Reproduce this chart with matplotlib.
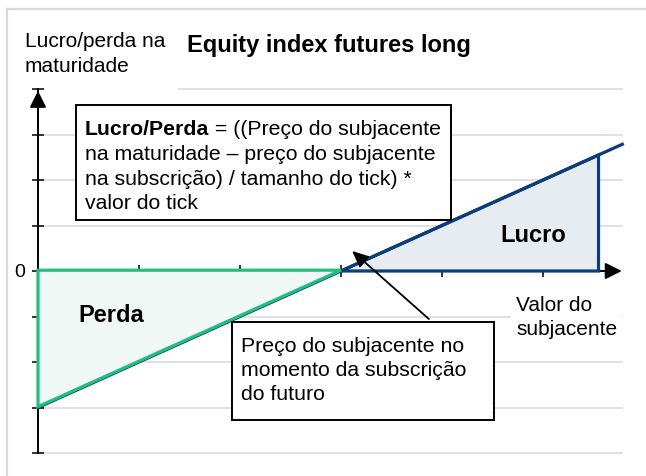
import matplotlib
matplotlib.use("Agg")
import matplotlib.pyplot as plt
import matplotlib.transforms as mtransforms
from matplotlib.patches import Polygon, Rectangle
from matplotlib.lines import Line2D

plt.rcParams['font.family'] = ['Liberation Sans', 'DejaVu Sans']

# chart content
title = "Equity index futures long"
y_label = ["Lucro/perda na", "maturidade"]
x_label = ["Valor do", "subjacente"]
strike = 3
x_ticks = [1, 2, 3, 4, 5]
y_ticks = [-4, -3, -2, -1, 0, 1, 2, 3, 4]
grid_y = [-4, -3, -2, -1, 1, 2, 3]
payoff_x = [0, 3, 5.8]
payoff_y = [-3, 0, 2.8]
loss_x = [0, 3, 0]
loss_y = [0, 0, -3]
profit_x = [3, 5.55, 5.55]
profit_y = [0, 0, 2.55]
formula_bold = "Lucro/Perda"
formula_lines = [" = ((Preço do subjacente",
                 "na maturidade \u2013 preço do subjacente",
                 "na subscrição) / tamanho do tick) *",
                 "valor do tick"]
note_lines = ["Preço do subjacente no", "momento da subscrição", "do futuro"]

W, H = 646, 477
green = '#1FC07F'
mint = '#EFF8F5'
navy = '#0B3D7B'
pale_blue = '#E7EBF2'
grid_c = '#D9D9D9'

fig = plt.figure(figsize=(W / 100, H / 100), dpi=100)
ax = fig.add_axes([0, 0, 1, 1])
ax.set_xlim(-38 / 101, (W - 38) / 101)
ax.set_ylim((272 - H) / 45.5, 272 / 45.5)
ax.axis('off')


def fx(x, y):
    # pixel position (from top-left) -> figure fraction
    return x / W, 1 - y / H


def ftext(x, y, s, **kw):
    return fig.text(*fx(x, y), s, va='baseline', ha='left', **kw)


# grid
ax.hlines(grid_y, 0, 5.79, color=grid_c, lw=1.1, zorder=1)
ax.hlines([4], 1.39, 5.79, color=grid_c, lw=1.1, zorder=1)

# axes with arrow heads
ax.plot([0, 0], [-4, 4], color='black', lw=1.4, zorder=3)
ax.plot([0, 5.7], [0, 0], color='black', lw=1.4, zorder=3)
head = dict(arrowstyle='-|>,head_length=1.0,head_width=0.5', mutation_scale=10,
            color='black', lw=1.4, shrinkA=0, shrinkB=0)
ax.annotate('', xy=(0, 3.96), xytext=(0, 3.0), arrowprops=head, zorder=3)
ax.annotate('', xy=(5.78, 0), xytext=(5.3, 0), arrowprops=head, zorder=3)

# ticks
ax.hlines(y_ticks, -0.06, 0.06, color='black', lw=1.1, zorder=3)
ax.vlines(x_ticks, -0.13, 0.13, color='black', lw=1.1, zorder=3)

# payoff
ax.add_patch(Polygon(list(zip(profit_x, profit_y)), closed=True, fc=pale_blue,
                     ec='none', zorder=4))
ax.add_patch(Polygon(list(zip(loss_x, loss_y)), closed=True, fc=mint,
                     ec='none', zorder=4))
ax.plot(payoff_x, payoff_y, color=navy, lw=2.3, zorder=5, solid_capstyle='butt')
ax.add_patch(Polygon(list(zip(profit_x, profit_y)), closed=True, fill=False,
                     ec=navy, lw=2.3, zorder=5, joinstyle='miter'))
shift = ax.transData + mtransforms.ScaledTranslation(0, 0.8 / 100, fig.dpi_scale_trans)
ax.add_patch(Polygon(list(zip(loss_x, loss_y)), closed=True, fill=False,
                     ec=green, lw=2.3, zorder=6, joinstyle='miter', transform=shift))

ax.annotate('', xy=(strike + 0.11, 0.44), xytext=(strike + 0.87, -1.055),
            arrowprops=dict(arrowstyle='-|>,head_length=1.0,head_width=0.45',
                            mutation_scale=10, color='black', lw=1.3,
                            shrinkA=0, shrinkB=0), zorder=7)

# outer frame
fig.add_artist(Line2D([7 / W, 7 / W], [0, 1 - 10 / H], transform=fig.transFigure,
                      color=grid_c, lw=1.6))
fig.add_artist(Line2D([7 / W, 1], [1 - 10 / H, 1 - 10 / H], transform=fig.transFigure,
                      color=grid_c, lw=1.6))

# titles and labels
ftext(187, 52, title, fontsize=17, weight='bold')
ftext(25, 47, y_label[0], fontsize=15)
ftext(25, 72, y_label[1], fontsize=15)
fig.text(*fx(20, 277), "0", fontsize=14, ha='center', va='baseline')
ftext(516, 311, x_label[0], fontsize=15,
      bbox=dict(boxstyle='square,pad=0.25', fc='white', ec='none'))
ftext(516, 335, x_label[1], fontsize=15,
      bbox=dict(boxstyle='square,pad=0.25', fc='white', ec='none'))
ftext(500, 242, "Lucro", fontsize=17, weight='bold', zorder=8)
ftext(78, 322, "Perda", fontsize=17, weight='bold', zorder=8)

# formula box
x0, y0 = fx(76, 221)
fig.add_artist(Rectangle((x0, y0), (451 - 76) / W, (221 - 106) / H,
                         transform=fig.transFigure, fc='white', ec='black', lw=1.4))
t = ftext(85, 135, formula_bold, fontsize=15.3, weight='bold')
bb = t.get_window_extent(fig.canvas.get_renderer())
fig.text(bb.x1 / W, 1 - 135 / H, formula_lines[0], fontsize=15.3, va='baseline')
for i, line in enumerate(formula_lines[1:]):
    ftext(85, 160 + 24.7 * i, line, fontsize=15.3)

# note box
x0, y0 = fx(232, 421)
fig.add_artist(Rectangle((x0, y0), (494 - 232) / W, (421 - 323) / H,
                         transform=fig.transFigure, fc='white', ec='black', lw=1.4))
for i, line in enumerate(note_lines):
    ftext(241, 352 + 24 * i, line, fontsize=15.3)

fig.savefig('out.png', dpi=100)
